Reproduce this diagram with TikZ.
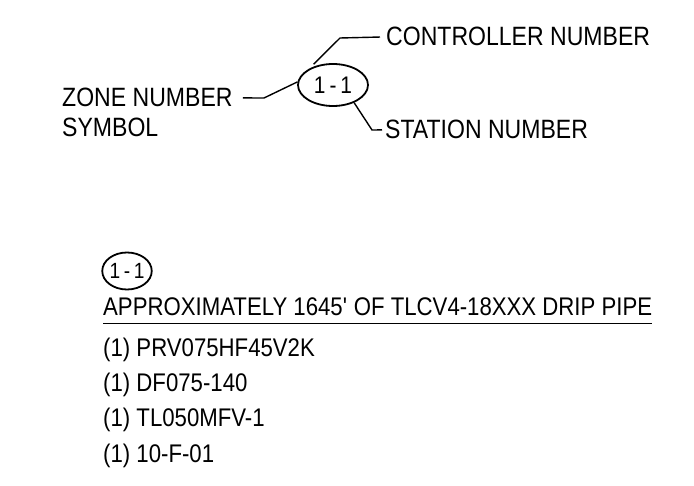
\documentclass[tikz,border=0pt]{standalone}
\usepackage{fontspec}
\setmainfont[FakeStretch=0.87]{Liberation Sans}
\usepackage{tikz}
\usetikzlibrary{shapes.geometric}

\begin{document}
\begin{tikzpicture}[x=1pt,y=-1pt,
  callout/.style={anchor=base west,inner sep=0pt,font=\fontsize{26.5}{26.5}\selectfont},
  listline/.style={anchor=base west,inner sep=0pt,font=\fontsize{25.5}{25.5}\selectfont},
  zonesym/.style={draw,ellipse,line width=1.8pt,inner sep=0pt,font=\fontsize{24}{24}\selectfont},
  leader/.style={line width=1.4pt}]
\useasboundingbox (0,0) rectangle (694,486);
% legend for the zone symbol
\node[zonesym,minimum width=70pt,minimum height=42pt] (sym) at (333,85) {1\,-\,1};
\node[callout] (ctrl) at (386,46) {CONTROLLER NUMBER};
\node[callout] (zone) at (62,107) {ZONE NUMBER};
\node[callout] (zonetwo) at (62,137) {SYMBOL};
\node[callout] (stat) at (385,139) {STATION NUMBER};
\coordinate (ck) at (340,38);
\coordinate (zk) at (264,98);
\coordinate (sk) at (372,130);
\draw[leader,shorten <=6pt,shorten >=6pt] (sym.145) -- (ck) -- (ctrl.west);
\draw[leader,shorten <=10pt] (zone.east) -- (zk) -- (sym.175);
\draw[leader,shorten >=3pt] (sym.-40) -- (sk) -- (stat.west);
% zone 1-1 schedule
\node[zonesym,minimum width=48pt,minimum height=37pt,font=\fontsize{22}{22}\selectfont] (zsym) at (127,271) {1\,-\,1};
\node[listline] (pipe) at (103,316) {APPROXIMATELY 1645\textquotesingle{} OF TLCV4-18XXX DRIP PIPE};
\draw[line width=1.6pt] ([yshift=-7pt]pipe.south west) -- ([yshift=-7pt]pipe.south east);
\node[listline] (prv) at (103,357) {(1) PRV075HF45V2K};
\node[listline] (df) at (103,392) {(1) DF075-140};
\node[listline] (tl) at (103,427) {(1) TL050MFV-1};
\node[listline] (tf) at (103,462) {(1) 10-F-01};
\end{tikzpicture}
\end{document}
